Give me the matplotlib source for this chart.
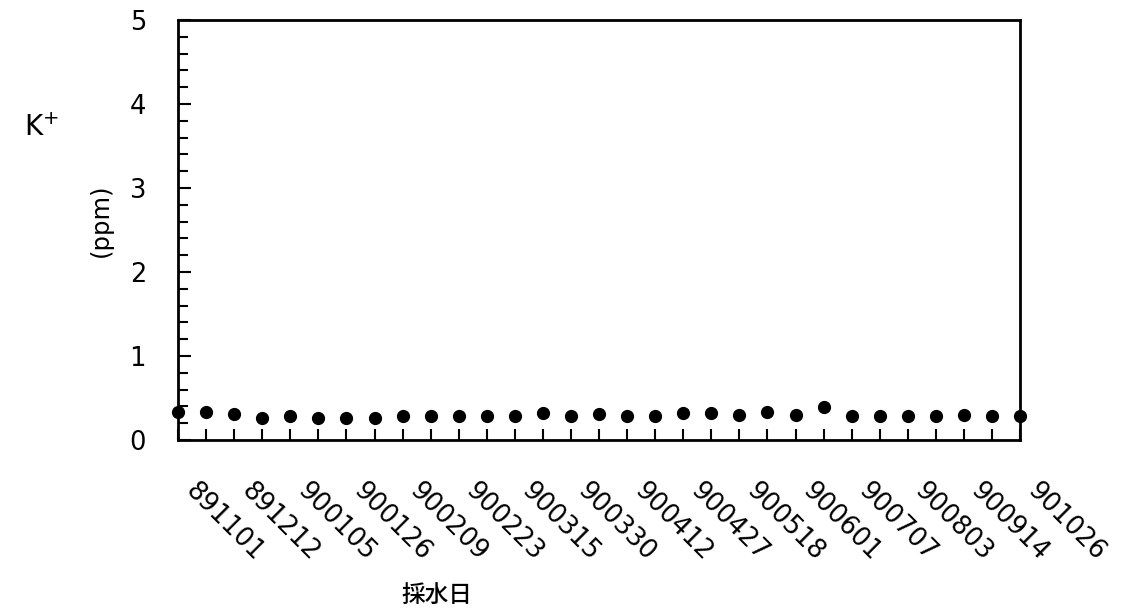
import numpy as np
import matplotlib
matplotlib.use('Agg')
import matplotlib.pyplot as plt
from matplotlib.ticker import MultipleLocator
import matplotlib.transforms as mtransforms

plt.rcParams['font.family'] = ['DejaVu Sans', 'Noto Sans CJK JP']

# sampling dates (every other sample is labelled)
dates = ['891101', '891212', '900105', '900126', '900209', '900223', '900315',
         '900330', '900412', '900427', '900518', '900601', '900707', '900803',
         '900914', '901026']

# K+ concentration (ppm), one value per sample
k_ppm = [0.33, 0.33, 0.31, 0.26, 0.28, 0.26, 0.26, 0.26, 0.28, 0.28, 0.28,
         0.28, 0.28, 0.32, 0.28, 0.31, 0.29, 0.29, 0.32, 0.32, 0.30, 0.33,
         0.30, 0.39, 0.29, 0.29, 0.28, 0.29, 0.30, 0.29, 0.29]

x = np.arange(len(k_ppm))

fig = plt.figure(figsize=(11.29, 6.15), dpi=100)
ax = fig.add_axes([0.1577, 0.2846, 0.7458, 0.6829])

ax.plot(x, k_ppm, 'o', color='black', markersize=8.5, clip_on=False, zorder=5)

ax.set_xlim(0, len(k_ppm) - 1)
ax.set_ylim(0, 5)

# y axis: labels every 1, ticks every 0.2, all pointing inward
ax.yaxis.set_major_locator(MultipleLocator(1))
ax.yaxis.set_minor_locator(MultipleLocator(0.2))
ax.tick_params(axis='y', which='major', direction='in', length=9, width=1.5,
               labelsize=18.5, pad=23)
ax.tick_params(axis='y', which='minor', direction='in', length=7, width=1.5)

# x axis: tick at every sample, label at every other
ax.set_xticks(x[::2])
ax.set_xticklabels(dates, rotation=-45, ha='left', va='top',
                   rotation_mode='anchor', fontsize=18.5)
ax.set_xticks(x, minor=True)
ax.tick_params(axis='x', which='both', direction='in', length=8, width=1.5,
               pad=27)
shift = mtransforms.ScaledTranslation(20 / 100, 0, fig.dpi_scale_trans)
for lbl in ax.get_xticklabels():
    lbl.set_transform(lbl.get_transform() + shift)

for sp in ax.spines.values():
    sp.set_linewidth(2)

fig.text(41 / 1129, 1 - 128 / 615, 'K$^{+}$', fontsize=20, ha='center', va='center')
fig.text(101 / 1129, 1 - 220 / 615, '(ppm)', fontsize=17.5, rotation=90,
         ha='center', va='center')
fig.text(437 / 1129, 1 - 595 / 615, '採水日', fontsize=17, ha='center', va='center',
         family=['Noto Sans CJK JP', 'DejaVu Sans'], weight='medium')

fig.savefig('out.png', dpi=100, facecolor='white')
